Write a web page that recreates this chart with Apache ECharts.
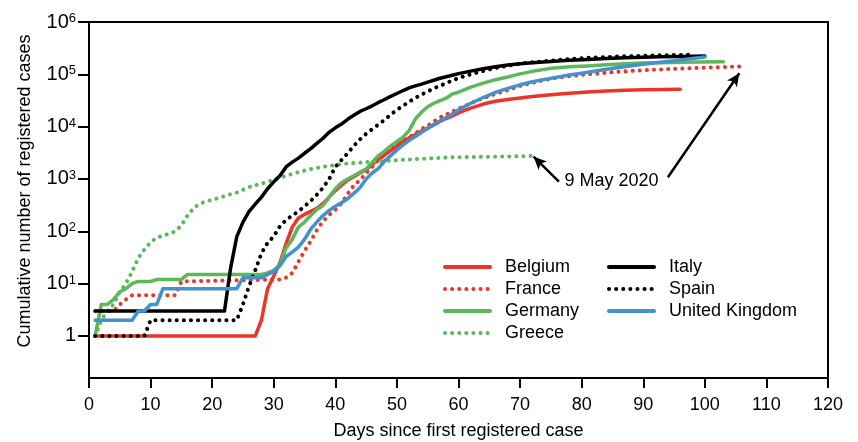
<!DOCTYPE html>
<html>
<head>
<meta charset="utf-8">
<script src="https://cdn.jsdelivr.net/npm/echarts@6/dist/echarts.min.js"></script>
<style>html,body{margin:0;padding:0;background:#fff}#chart{width:858px;height:442px}</style>
</head>
<body>
<div id="chart"></div>
<script>
// [day since first case, cumulative cases]
const belgium = [[1,1],[27,1],[28,2],[29,8],[30,14],[31,25],[32,58],[33,120],[34,180],[35,210],[36,240],[37,275],[38,340],[39,450],[40,600],[41,760],[42,950],[43,1100],[44,1300],[45,1500],[46,1900],[47,2400],[48,2900],[49,3500],[50,4300],[51,5200],[52,6100],[53,7100],[54,8200],[55,9400],[56,10800],[57,12600],[58,14300],[59,16000],[60,18300],[61,20500],[62,22500],[64,27000],[66,30500],[68,33000],[70,35300],[72,37500],[75,40500],[78,43500],[81,46000],[84,48000],[87,49600],[90,50500],[93,51300],[96,51800]];
const france = [[1,3],[4,3],[5,4],[6,5],[7,6],[14,6],[15,11],[31,12],[32,13],[33,16],[34,26],[35,42],[36,65],[37,105],[38,155],[39,205],[40,260],[41,340],[42,520],[43,750],[44,950],[45,1300],[46,1700],[47,2300],[48,2900],[49,3600],[50,4400],[51,5400],[52,6300],[53,7500],[54,9000],[55,10500],[56,12500],[57,15000],[58,17000],[59,19500],[60,22000],[62,28000],[64,35000],[66,42000],[68,50000],[70,60000],[72,69000],[74,78000],[76,86000],[78,92000],[80,98000],[83,105000],[86,112000],[89,118000],[92,123000],[95,127000],[98,131000],[101,135000],[104,139000],[106,141000]];
const germany = [[1,1],[2,4],[3,4],[4,5],[5,7],[6,8],[7,10],[8,11],[10,11],[11,12],[15,12],[16,15],[28,15],[29,16],[30,18],[31,23],[32,48],[33,70],[34,120],[35,150],[36,200],[37,260],[38,310],[39,450],[40,650],[41,850],[42,1000],[43,1150],[44,1350],[45,1550],[46,2100],[47,2800],[48,3400],[49,4300],[50,5200],[51,6300],[52,8500],[53,14000],[54,19000],[55,24000],[56,28000],[57,31500],[58,35000],[59,42000],[60,45500],[62,57000],[64,68000],[66,79000],[68,89000],[70,102000],[72,114000],[75,130000],[78,139000],[81,145000],[84,152000],[87,160000],[90,164000],[93,167000],[96,170000],[99,172000],[103,174000]];
const greece = [[1,1],[2,2],[3,3],[4,4],[5,7],[6,10],[7,17],[8,31],[9,45],[10,62],[11,75],[12,83],[13,89],[14,100],[15,130],[16,200],[17,280],[18,340],[19,370],[20,400],[21,430],[22,470],[23,510],[24,550],[25,620],[26,700],[27,760],[28,820],[29,880],[30,960],[31,1060],[32,1150],[34,1350],[36,1550],[38,1700],[40,1850],[42,1980],[44,2050],[46,2150],[48,2220],[50,2280],[53,2400],[56,2500],[59,2600],[62,2630],[65,2660],[68,2690],[72,2750]];
const italy = [[1,3],[22,3],[23,20],[24,79],[25,150],[26,240],[27,330],[28,450],[29,650],[30,880],[31,1150],[32,1700],[33,2100],[34,2500],[35,3100],[36,3800],[37,4800],[38,6000],[39,7800],[40,9500],[41,11200],[42,13800],[43,16500],[44,19500],[45,22000],[46,25000],[47,29000],[48,33000],[49,38000],[50,43000],[51,49000],[52,55000],[53,60000],[54,65000],[55,71000],[56,77000],[57,84000],[58,90000],[59,96000],[60,103000],[62,115000],[64,128000],[66,140000],[68,150000],[70,160000],[72,167000],[75,176000],[78,185000],[81,193000],[84,200000],[87,207000],[90,212000],[93,216000],[96,220000],[100,224000]];
const spain = [[1,1],[9,1],[10,2],[24,2],[25,4],[26,9],[27,18],[28,38],[29,60],[30,80],[31,125],[32,165],[33,200],[34,240],[35,300],[36,380],[37,500],[38,680],[39,1000],[40,1700],[41,2300],[42,3100],[43,4300],[44,5700],[45,7300],[46,9000],[47,11000],[48,13500],[49,17000],[50,21000],[51,25000],[52,30000],[53,35500],[54,41000],[55,47000],[56,54000],[57,60000],[58,68000],[59,76000],[60,85000],[62,100000],[64,116000],[66,132000],[68,146000],[70,160000],[72,170000],[75,183000],[78,196000],[81,207000],[84,214000],[87,221000],[90,226000],[93,231000],[96,235000],[98,238000]];
const unitedKingdom = [[1,2],[7,2],[8,3],[9,3],[10,4],[11,4],[12,8],[24,8],[25,13],[28,13],[29,15],[30,17],[31,22],[32,33],[33,40],[34,50],[35,70],[36,110],[37,150],[38,200],[39,250],[40,300],[41,350],[42,420],[43,530],[44,680],[45,1000],[46,1300],[47,1600],[48,2200],[49,2800],[50,3600],[51,4500],[52,5500],[53,6500],[54,7800],[55,9200],[56,11000],[57,12800],[58,15000],[59,17500],[60,21000],[62,28000],[64,36000],[66,45000],[68,54000],[70,63000],[72,72000],[74,80000],[76,88000],[78,97000],[80,105000],[83,120000],[86,135000],[89,150000],[92,166000],[95,182000],[98,200000],[100,214000]];

const yTickValues = [1, 10, 100, 1000, 10000, 100000, 1000000];
const legendLeft = ['Belgium', 'France', 'Germany', 'Greece'];
const legendRight = ['Italy', 'Spain', 'United Kingdom'];
const annotationText = '9 May 2020';
// arrows: [tail, tip] in data coordinates
const arrowGreece = [[76.3, 887], [72.2, 2667]];
const arrowFrance = [[94.0, 1076], [105.6, 104800]];
const annotationPos = [84.85, 916];

const FONT = 'Liberation Sans, Arial, Helvetica, sans-serif';
const RED = '#EE3426', GREEN = '#5CB85B', BLUE = '#4192CE', BLACK = '#000000';
const DOT = [0.1, 7];

function mk(name, data, color, dotted, extra) {
  return Object.assign({
    name: name, type: 'line', data: data, symbol: 'none', showSymbol: false,
    itemStyle: { color: color },
    lineStyle: { color: color, width: dotted ? 4 : 3.5, type: dotted ? DOT : 'solid', cap: 'round', join: 'round' },
    emphasis: { disabled: true }, silent: true
  }, extra || {});
}

const chart = echarts.init(document.getElementById('chart'), null, { renderer: 'canvas' });
const legendCommon = {
  orient: 'vertical', itemWidth: 45, itemHeight: 18, itemGap: 4, selectedMode: false,
  itemStyle: { opacity: 0 },
  lineStyle: { width: 4 },
  textStyle: { fontFamily: FONT, fontSize: 18, color: '#000', lineHeight: 18, padding: [0, 0, 0, 10] }
};
chart.setOption({
  animation: false,
  backgroundColor: '#fff',
  textStyle: { fontFamily: FONT },
  grid: {
    left: 89, right: 30, top: 22, bottom: 64, containLabel: false, outerBoundsMode: 'none',
    show: true, borderColor: '#000', borderWidth: 2, backgroundColor: 'transparent'
  },
  legend: [
    Object.assign({}, legendCommon, { data: legendLeft, left: 438, top: 253 }),
    Object.assign({}, legendCommon, { data: legendRight, left: 602, top: 253 })
  ],
  xAxis: {
    type: 'value', min: 0, max: 120, interval: 10,
    name: 'Days since first registered case', nameLocation: 'middle', nameGap: 44,
    nameTextStyle: { fontFamily: FONT, fontSize: 18, color: '#000' },
    axisLine: { show: true, lineStyle: { color: '#000', width: 2 } },
    axisTick: { show: true, length: 10, lineStyle: { color: '#000', width: 2 } },
    axisLabel: { fontFamily: FONT, fontSize: 18, color: '#000', margin: 18 },
    splitLine: { show: false }
  },
  yAxis: {
    type: 'log', logBase: 10, min: 0.157, max: 1000000,
    name: 'Cumulative number of registered cases', nameLocation: 'middle', nameGap: 55,
    nameTextStyle: { fontFamily: FONT, fontSize: 18, color: '#000', padding: [0, 0, 0, 18] },
    axisLine: { show: true, lineStyle: { color: '#000', width: 2 } },
    axisTick: { show: true, length: 11, lineStyle: { color: '#000', width: 2 }, customValues: yTickValues },
    axisLabel: {
      customValues: yTickValues, margin: 13, color: '#000',
      formatter: function (v) {
        const e = Math.round(Math.log10(v));
        return e === 0 ? '{b|1}' : '{b|10}{s|' + e + '}';
      },
      rich: {
        b: { fontFamily: FONT, fontSize: 20, color: '#000' },
        s: { fontFamily: FONT, fontSize: 13, color: '#000', verticalAlign: 'top' }
      }
    },
    splitLine: { show: false }
  },
  series: [
    mk('Belgium', belgium, RED, false),
    mk('France', france, RED, true),
    mk('Germany', germany, GREEN, false),
    mk('Greece', greece, GREEN, true, {
      markLine: {
        silent: true, symbol: ['none', 'arrow'], symbolSize: [9, 13],
        lineStyle: { color: '#000', width: 2.5, type: 'solid' },
        label: { show: false },
        data: [
          [{ coord: arrowGreece[0] }, { coord: arrowGreece[1] }],
          [{ coord: arrowFrance[0] }, { coord: arrowFrance[1] }]
        ]
      },
      markPoint: {
        silent: true, symbol: 'circle', symbolSize: 0,
        label: { show: true, position: 'inside', formatter: annotationText, fontFamily: FONT, fontSize: 18, color: '#000' },
        data: [{ coord: annotationPos }]
      }
    }),
    mk('Italy', italy, BLACK, false),
    mk('Spain', spain, BLACK, true),
    mk('United Kingdom', unitedKingdom, BLUE, false)
  ]
});
</script>
</body>
</html>
